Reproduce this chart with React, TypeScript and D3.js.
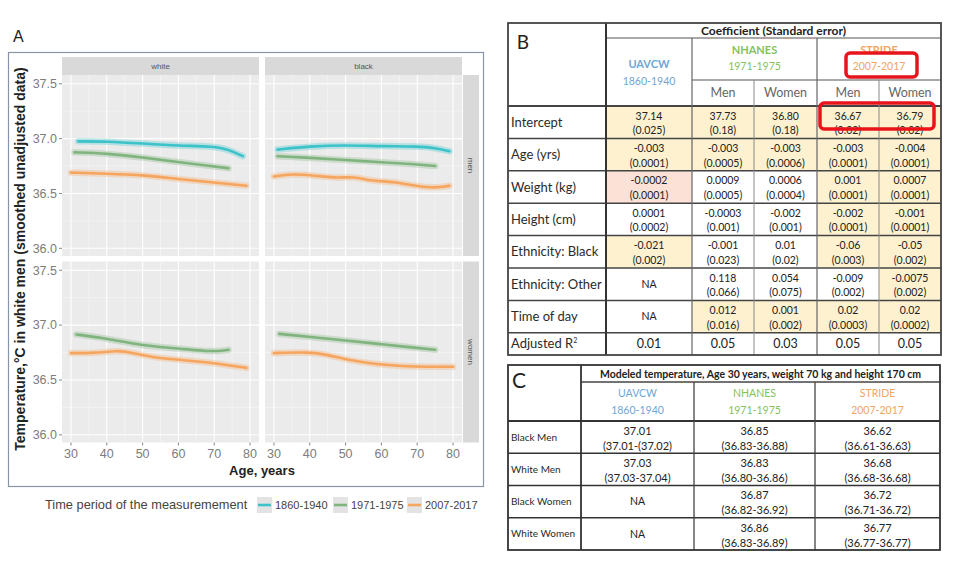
import React from "react";
import * as d3 from "d3";

// ---------- Panel A data ----------
const raceFacets = ["white", "black"];
const sexFacets = ["men", "women"];
const periods = ["1860-1940", "1971-1975", "2007-2017"];
const periodColors = ["#3cc2c9", "#80b47f", "#f6a55f"];
const ageTicks = [30, 40, 50, 60, 70, 80];
const ageMinor = [35, 45, 55, 65, 75];
const tempTicks = [36.0, 36.5, 37.0, 37.5];
const tempMinor = [36.25, 36.75, 37.25];

const whiteMen1860Age = [32, 40, 50, 60, 70, 74, 78];
const whiteMen1860Temp = [36.975, 36.975, 36.955, 36.935, 36.93, 36.9, 36.84];
const whiteMen1971Age = [31, 40, 50, 60, 69, 74];
const whiteMen1971Temp = [36.875, 36.865, 36.83, 36.785, 36.75, 36.73];
const whiteMen2007Age = [30, 40, 50, 60, 70, 79];
const whiteMen2007Temp = [36.69, 36.68, 36.67, 36.63, 36.6, 36.57];

const blackMen1860Age = [31, 40, 50, 60, 70, 75, 79];
const blackMen1860Temp = [36.9, 36.93, 36.94, 36.93, 36.93, 36.915, 36.885];
const blackMen1971Age = [31, 40, 50, 60, 70, 75];
const blackMen1971Temp = [36.84, 36.825, 36.805, 36.785, 36.765, 36.75];
const blackMen2007Age = [30, 35, 42, 48, 52, 58, 63, 70, 75, 79];
const blackMen2007Temp = [36.655, 36.68, 36.66, 36.64, 36.655, 36.61, 36.61, 36.565, 36.55, 36.57];

const whiteWomen1971Age = [31.5, 40, 50, 60, 69, 74];
const whiteWomen1971Temp = [36.915, 36.88, 36.81, 36.79, 36.755, 36.775];
const whiteWomen2007Age = [30, 37, 43, 47, 52, 60, 70, 79];
const whiteWomen2007Temp = [36.745, 36.745, 36.77, 36.75, 36.71, 36.685, 36.655, 36.61];

const blackWomen1971Age = [31.5, 40, 50, 60, 70, 75];
const blackWomen1971Temp = [36.92, 36.892, 36.86, 36.826, 36.792, 36.775];
const blackWomen2007Age = [30, 40, 45, 50, 58, 66, 73, 80];
const blackWomen2007Temp = [36.745, 36.755, 36.73, 36.685, 36.645, 36.625, 36.62, 36.62];

const seriesList = [
  { race: "white", sex: "men", period: 0, ages: whiteMen1860Age, temps: whiteMen1860Temp },
  { race: "white", sex: "men", period: 1, ages: whiteMen1971Age, temps: whiteMen1971Temp },
  { race: "white", sex: "men", period: 2, ages: whiteMen2007Age, temps: whiteMen2007Temp },
  { race: "black", sex: "men", period: 0, ages: blackMen1860Age, temps: blackMen1860Temp },
  { race: "black", sex: "men", period: 1, ages: blackMen1971Age, temps: blackMen1971Temp },
  { race: "black", sex: "men", period: 2, ages: blackMen2007Age, temps: blackMen2007Temp },
  { race: "white", sex: "women", period: 1, ages: whiteWomen1971Age, temps: whiteWomen1971Temp },
  { race: "white", sex: "women", period: 2, ages: whiteWomen2007Age, temps: whiteWomen2007Temp },
  { race: "black", sex: "women", period: 1, ages: blackWomen1971Age, temps: blackWomen1971Temp },
  { race: "black", sex: "women", period: 2, ages: blackWomen2007Age, temps: blackWomen2007Temp },
];

// ---------- Panel B data ----------
const bGroupNames = ["UAVCW", "NHANES", "STRIDE"];
const bGroupYears = ["1860-1940", "1971-1975", "2007-2017"];
const bGroupColors = ["#6ea6d8", "#86bf5c", "#f2a462"];
const bSexHeaders = ["Men", "Women", "Men", "Women"];
const bRowLabels = ["Intercept", "Age (yrs)", "Weight (kg)", "Height (cm)", "Ethnicity: Black", "Ethnicity: Other", "Time of day", "Adjusted R"];
const bCoef = [
  ["37.14", "37.73", "36.80", "36.67", "36.79"],
  ["-0.003", "-0.003", "-0.003", "-0.003", "-0.004"],
  ["-0.0002", "0.0009", "0.0006", "0.001", "0.0007"],
  ["0.0001", "-0.0003", "-0.002", "-0.002", "-0.001"],
  ["-0.021", "-0.001", "0.01", "-0.06", "-0.05"],
  ["NA", "0.118", "0.054", "-0.009", "-0.0075"],
  ["NA", "0.012", "0.001", "0.02", "0.02"],
  ["0.01", "0.05", "0.03", "0.05", "0.05"],
];
const bSE = [
  ["(0.025)", "(0.18)", "(0.18)", "(0.02)", "(0.02)"],
  ["(0.0001)", "(0.0005)", "(0.0006)", "(0.0001)", "(0.0001)"],
  ["(0.0001)", "(0.0005)", "(0.0004)", "(0.0001)", "(0.0001)"],
  ["(0.0002)", "(0.001)", "(0.001)", "(0.0001)", "(0.0001)"],
  ["(0.002)", "(0.023)", "(0.02)", "(0.003)", "(0.002)"],
  ["", "(0.066)", "(0.075)", "(0.002)", "(0.002)"],
  ["", "(0.016)", "(0.002)", "(0.0003)", "(0.0002)"],
  ["", "", "", "", ""],
];
const bFill = [
  ["y", "y", "y", "y", "y"],
  ["y", "y", "y", "y", "y"],
  ["p", "", "", "y", "y"],
  ["", "", "", "y", "y"],
  ["y", "", "", "y", "y"],
  ["", "", "", "", "y"],
  ["", "y", "y", "y", "y"],
  ["", "", "", "", ""],
];

// ---------- Panel C data ----------
const cTitle = "Modeled temperature, Age 30 years, weight 70 kg and height 170 cm";
const cRowLabels = ["Black Men", "White Men", "Black Women", "White Women"];
const cVals = [
  ["37.01", "36.85", "36.62"],
  ["37.03", "36.83", "36.68"],
  ["NA", "36.87", "36.72"],
  ["NA", "36.86", "36.77"],
];
const cCI = [
  ["(37.01-(37.02)", "(36.83-36.88)", "(36.61-36.63)"],
  ["(37.03-37.04)", "(36.80-36.86)", "(36.68-36.68)"],
  ["", "(36.82-36.92)", "(36.71-36.72)"],
  ["", "(36.83-36.89)", "(36.77-36.77)"],
];

// ---------- layout ----------
const W = 960, H = 575;
const AF = "'Liberation Sans', Arial, sans-serif";
const TF = "Lato, 'Open Sans', sans-serif";
const panelX0 = [62, 265];
const panelY0 = [75, 261.5];
const panelW = 197, panelH = 181;

const bCols = [508, 606, 692, 754, 817, 879, 941];
const bTop = 23, bHeadLine1 = 38, bHeadLine2 = 80, bHeadBottom = 106, bBottom = 355;
const cCols = [508, 581, 694, 815, 940];
const cTop = 365, cHeadLine = 382, cHeadBottom = 421, cBottom = 550;

const fills: Record<string, string> = { y: "#fdf1cf", p: "#fbe1d6" };

function PanelA() {
  const x = d3.scaleLinear().domain([27.5, 82.5]).range([0, panelW]);
  const y = d3.scaleLinear().domain([35.93, 37.58]).range([panelH, 0]);
  const line = d3
    .line<[number, number]>()
    .x((d) => x(d[0]))
    .y((d) => y(d[1]))
    .curve(d3.curveBasis);

  return (
    <g>
      <text x={13} y={42} fontFamily={AF} fontSize={16} fill="#222">A</text>
      <rect x={8.5} y={52.5} width={475} height={434} fill="none" stroke="#8a94a8" strokeWidth={1.2} />
      {raceFacets.map((race, ci) => (
        <g key={race}>
          <rect x={panelX0[ci]} y={57} width={panelW} height={18} fill="#d9d9d9" />
          <text x={panelX0[ci] + panelW / 2} y={66} dy="0.35em" textAnchor="middle" fontFamily={AF} fontSize={8} fill="#555">{race}</text>
        </g>
      ))}
      {sexFacets.map((sex, ri) => (
        <g key={sex}>
          <rect x={463} y={panelY0[ri]} width={16} height={panelH} fill="#d9d9d9" />
          <text transform={`translate(471,${panelY0[ri] + panelH / 2}) rotate(90)`} dy="0.35em" textAnchor="middle" fontFamily={AF} fontSize={8} fill="#555">{sex}</text>
        </g>
      ))}
      {sexFacets.map((sex, ri) =>
        raceFacets.map((race, ci) => (
          <g key={sex + race} transform={`translate(${panelX0[ci]},${panelY0[ri]})`}>
            <rect width={panelW} height={panelH} fill="#ebebeb" />
            {ageMinor.map((a) => (
              <line key={"xm" + a} x1={x(a)} x2={x(a)} y1={0} y2={panelH} stroke="#f7f7f7" strokeWidth={0.6} />
            ))}
            {tempMinor.map((t) => (
              <line key={"ym" + t} x1={0} x2={panelW} y1={y(t)} y2={y(t)} stroke="#f7f7f7" strokeWidth={0.6} />
            ))}
            {ageTicks.map((a) => (
              <line key={"x" + a} x1={x(a)} x2={x(a)} y1={0} y2={panelH} stroke="#fff" strokeWidth={1.1} />
            ))}
            {tempTicks.map((t) => (
              <line key={"y" + t} x1={0} x2={panelW} y1={y(t)} y2={y(t)} stroke="#fff" strokeWidth={1.1} />
            ))}
            {seriesList
              .filter((s) => s.race === race && s.sex === sex)
              .map((s, i) => {
                const pts = s.ages.map((a, k) => [a, s.temps[k]] as [number, number]);
                const d = line(pts) || "";
                return (
                  <g key={i}>
                    <path d={d} fill="none" stroke={periodColors[s.period]} strokeOpacity={0.3} strokeWidth={6.5} strokeLinecap="round" />
                    <path d={d} fill="none" stroke={periodColors[s.period]} strokeWidth={2.6} strokeLinecap="round" />
                  </g>
                );
              })}
            {ci === 0 &&
              tempTicks.map((t) => (
                <g key={"yt" + t}>
                  <line x1={-3} x2={0} y1={y(t)} y2={y(t)} stroke="#888" />
                  <text x={-5} y={y(t)} dy="0.35em" textAnchor="end" fontFamily={AF} fontSize={12.5} fill="#7c7c7c">{t.toFixed(1)}</text>
                </g>
              ))}
            {ri === 1 &&
              ageTicks.map((a) => (
                <g key={"xt" + a}>
                  <line x1={x(a)} x2={x(a)} y1={panelH} y2={panelH + 3} stroke="#888" />
                  <text x={x(a)} y={panelH + 11} dy="0.35em" textAnchor="middle" fontFamily={AF} fontSize={12.5} fill="#7c7c7c">{a}</text>
                </g>
              ))}
          </g>
        ))
      )}
      <text transform="translate(25,259) rotate(-90)" textAnchor="middle" fontFamily={AF} fontSize={14} fontWeight="bold" fill="#222">
        Temperature,°C in white men (smoothed unadjusted data)
      </text>
      <text x={262} y={470} dy="0.35em" textAnchor="middle" fontFamily={AF} fontSize={13} fontWeight="bold" fill="#222">Age, years</text>
      <text x={45} y={505} dy="0.35em" fontFamily={AF} fontSize={12.8} fill="#444">Time period of the measuremement</text>
      {periods.map((p, i) => {
        const kx = [257, 333, 407][i];
        return (
          <g key={p}>
            <rect x={kx} y={497} width={15} height={16} fill="#e3e3e3" />
            <line x1={kx + 1} x2={kx + 14} y1={505} y2={505} stroke={periodColors[i]} strokeWidth={2.6} />
            <text x={kx + 18} y={505} dy="0.35em" fontFamily={AF} fontSize={11} fill="#444">{p}</text>
          </g>
        );
      })}
    </g>
  );
}

function PanelB() {
  const rowCount = bRowLabels.length;
  const rowTops = d3.range(rowCount).map((i) => bHeadBottom + i * 32.4);
  const rowBottoms = rowTops.map((t, i) => (i < rowCount - 1 ? rowTops[i + 1] : bBottom));
  const groupSpans = [
    [bCols[1], bCols[2]],
    [bCols[2], bCols[4]],
    [bCols[4], bCols[6]],
  ];
  return (
    <g>
      {bFill.map((row, ri) =>
        row.map((f, ci) =>
          f ? (
            <rect key={ri + "-" + ci} x={bCols[ci + 1]} y={rowTops[ri]} width={bCols[ci + 2] - bCols[ci + 1]} height={rowBottoms[ri] - rowTops[ri]} fill={fills[f]} />
          ) : null
        )
      )}
      <line x1={bCols[1]} x2={bCols[6]} y1={bHeadLine1} y2={bHeadLine1} stroke="#555" strokeWidth={1.2} />
      <line x1={bCols[2]} x2={bCols[6]} y1={bHeadLine2} y2={bHeadLine2} stroke="#555" strokeWidth={1.2} />
      {rowTops.map((t, i) => (
        <line key={"h" + i} x1={bCols[0]} x2={bCols[6]} y1={t} y2={t} stroke="#444" strokeWidth={i === 0 ? 2 : 1.5} />
      ))}
      <line x1={bCols[2]} x2={bCols[2]} y1={bHeadLine1} y2={bBottom} stroke="#666" strokeWidth={1.2} />
      <line x1={bCols[3]} x2={bCols[3]} y1={bHeadLine2} y2={bBottom} stroke="#888" strokeWidth={1} />
      <line x1={bCols[4]} x2={bCols[4]} y1={bHeadLine1} y2={bBottom} stroke="#666" strokeWidth={1.2} />
      <line x1={bCols[5]} x2={bCols[5]} y1={bHeadLine2} y2={bBottom} stroke="#888" strokeWidth={1} />
      <line x1={bCols[1]} x2={bCols[1]} y1={bTop} y2={bBottom} stroke="#333" strokeWidth={2} />
      <rect x={bCols[0]} y={bTop} width={bCols[6] - bCols[0]} height={bBottom - bTop} fill="none" stroke="#444" strokeWidth={1.8} />

      <text x={523} y={42} dy="0.35em" textAnchor="middle" fontFamily={TF} fontSize={19} fill="#222">B</text>
      <text x={(bCols[1] + bCols[6]) / 2} y={31} dy="0.35em" textAnchor="middle" fontFamily={TF} fontSize={12} fontWeight="bold" fill="#222">Coefficient (Standard error)</text>
      <text x={(groupSpans[0][0] + groupSpans[0][1]) / 2} y={64} dy="0.35em" textAnchor="middle" fontFamily={TF} fontSize={11} fontWeight="bold" fill={bGroupColors[0]}>{bGroupNames[0]}</text>
      <text x={(groupSpans[0][0] + groupSpans[0][1]) / 2} y={81} dy="0.35em" textAnchor="middle" fontFamily={TF} fontSize={10.5} fill={bGroupColors[0]}>{bGroupYears[0]}</text>
      {[1, 2].map((g) => (
        <g key={g}>
          <text x={(groupSpans[g][0] + groupSpans[g][1]) / 2} y={50} dy="0.35em" textAnchor="middle" fontFamily={TF} fontSize={11} fontWeight="bold" fill={bGroupColors[g]}>{bGroupNames[g]}</text>
          <text x={(groupSpans[g][0] + groupSpans[g][1]) / 2} y={66} dy="0.35em" textAnchor="middle" fontFamily={TF} fontSize={10.5} fill={bGroupColors[g]}>{bGroupYears[g]}</text>
        </g>
      ))}
      {bSexHeaders.map((s, i) => (
        <text key={i} x={(bCols[i + 2] + bCols[i + 3]) / 2} y={93} dy="0.35em" textAnchor="middle" fontFamily={TF} fontSize={12.5} fill="#666">{s}</text>
      ))}

      {bRowLabels.map((lab, ri) => (
        <text key={"l" + ri} x={511} y={(rowTops[ri] + rowBottoms[ri]) / 2} dy="0.35em" fontFamily={TF} fontSize={13} fill="#2a2a2a">
          {lab}
          {ri === rowCount - 1 ? <tspan dy="-5" fontSize={7}>2</tspan> : null}
        </text>
      ))}
      {bCoef.map((row, ri) =>
        row.map((v, ci) => {
          const cx = (bCols[ci + 1] + bCols[ci + 2]) / 2;
          const single = bSE[ri][ci] === "";
          const isLast = ri === rowCount - 1;
          return (
            <g key={ri + "-" + ci}>
              <text x={cx} y={single ? (rowTops[ri] + rowBottoms[ri]) / 2 : rowTops[ri] + 10} dy="0.35em" textAnchor="middle" fontFamily={TF} fontSize={isLast ? 12.5 : 10.5} fill="#222">{v}</text>
              {!single && (
                <text x={cx} y={rowTops[ri] + 24.5} dy="0.35em" textAnchor="middle" fontFamily={TF} fontSize={10.5} fill="#222">{bSE[ri][ci]}</text>
              )}
            </g>
          );
        })
      )}
      <rect x={846} y={53} width={71} height={24} rx={4} fill="none" stroke="#e8141c" strokeWidth={3.5} />
      <rect x={820} y={103} width={114} height={26} rx={4} fill="none" stroke="#e8141c" strokeWidth={3.5} />
    </g>
  );
}

function PanelC() {
  const rowH = (cBottom - cHeadBottom) / cRowLabels.length;
  const rowTops = d3.range(cRowLabels.length).map((i) => cHeadBottom + i * rowH);
  return (
    <g>
      <line x1={cCols[1]} x2={cCols[4]} y1={cHeadLine} y2={cHeadLine} stroke="#444" strokeWidth={1.5} />
      {rowTops.map((t, i) => (
        <line key={i} x1={cCols[0]} x2={cCols[4]} y1={t} y2={t} stroke="#333" strokeWidth={i === 0 ? 1.8 : 1.5} />
      ))}
      <line x1={cCols[2]} x2={cCols[2]} y1={cHeadLine} y2={cBottom} stroke="#444" strokeWidth={1.3} />
      <line x1={cCols[3]} x2={cCols[3]} y1={cHeadLine} y2={cBottom} stroke="#444" strokeWidth={1.3} />
      <line x1={cCols[1]} x2={cCols[1]} y1={cTop} y2={cBottom} stroke="#333" strokeWidth={1.8} />
      <rect x={cCols[0]} y={cTop} width={cCols[4] - cCols[0]} height={cBottom - cTop} fill="none" stroke="#333" strokeWidth={1.8} />

      <text x={519} y={381} dy="0.35em" textAnchor="middle" fontFamily={TF} fontSize={21} fill="#222">C</text>
      <text x={(cCols[1] + cCols[4]) / 2} y={374} dy="0.35em" textAnchor="middle" fontFamily={TF} fontSize={10.5} fontWeight="bold" fill="#222">{cTitle}</text>
      {bGroupNames.map((g, i) => (
        <g key={g}>
          <text x={(cCols[i + 1] + cCols[i + 2]) / 2} y={393} dy="0.35em" textAnchor="middle" fontFamily={TF} fontSize={10.5} fill={bGroupColors[i]}>{g}</text>
          <text x={(cCols[i + 1] + cCols[i + 2]) / 2} y={410} dy="0.35em" textAnchor="middle" fontFamily={TF} fontSize={10.5} fill={bGroupColors[i]}>{bGroupYears[i]}</text>
        </g>
      ))}
      {cRowLabels.map((lab, ri) => (
        <text key={lab} x={511} y={rowTops[ri] + rowH / 2} dy="0.35em" fontFamily={TF} fontSize={10} fill="#2a2a2a">{lab}</text>
      ))}
      {cVals.map((row, ri) =>
        row.map((v, ci) => {
          const cx = (cCols[ci + 1] + cCols[ci + 2]) / 2;
          const single = cCI[ri][ci] === "";
          return (
            <g key={ri + "-" + ci}>
              <text x={cx} y={single ? rowTops[ri] + rowH / 2 : rowTops[ri] + 10} dy="0.35em" textAnchor="middle" fontFamily={TF} fontSize={single ? 10.5 : 11} fill="#222">{v}</text>
              {!single && (
                <text x={cx} y={rowTops[ri] + 25} dy="0.35em" textAnchor="middle" fontFamily={TF} fontSize={11} fill="#222">{cCI[ri][ci]}</text>
              )}
            </g>
          );
        })
      )}
    </g>
  );
}

export default function App() {
  return (
    <svg width={W} height={H} viewBox={`0 0 ${W} ${H}`} style={{ position: "absolute", left: 0, top: 0, background: "#fff" }}>
      <rect width={W} height={H} fill="#fff" />
      <PanelA />
      <PanelB />
      <PanelC />
    </svg>
  );
}
